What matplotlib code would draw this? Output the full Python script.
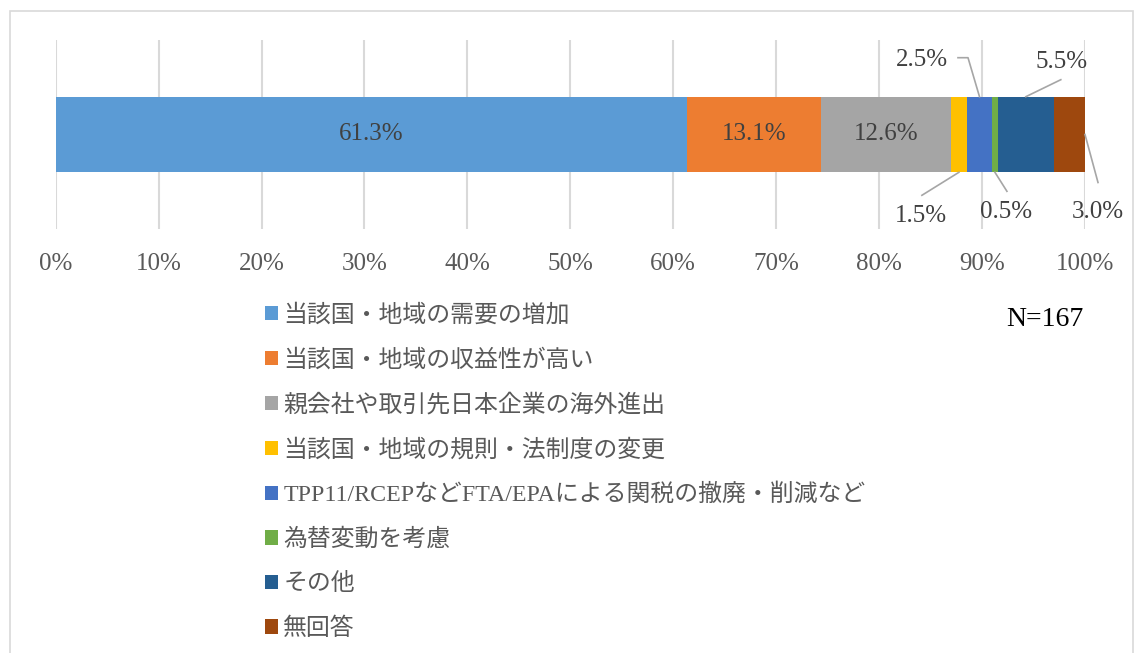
import numpy as np
import matplotlib.pyplot as plt
from matplotlib.patches import Rectangle
from matplotlib.transforms import IdentityTransform

plt.rcParams['font.family'] = ['Liberation Serif', 'Noto Sans CJK JP', 'DejaVu Sans']

# データ
categories = ['当該国・地域の需要の増加',
              '当該国・地域の収益性が高い',
              '親会社や取引先日本企業の海外進出',
              '当該国・地域の規則・法制度の変更',
              'TPP11/RCEPなどFTA/EPAによる関税の撤廃・削減など',
              '為替変動を考慮',
              'その他',
              '無回答']
values = [61.3, 13.1, 12.6, 1.5, 2.5, 0.5, 5.5, 3.0]
colors = ['#5B9BD5', '#ED7D31', '#A5A5A5', '#FFC000',
          '#4472C4', '#70AD47', '#255E91', '#9E480E']
tick_labels = ['0%', '10%', '20%', '30%', '40%', '50%',
               '60%', '70%', '80%', '90%', '100%']
n_label = 'N=167'

W, H = 1135, 653
fig = plt.figure(figsize=(W / 100, H / 100), dpi=100)

# 枠線
fig.patches.append(Rectangle((10 / W, -0.05), 1123 / W, 1 - 11 / H + 0.05,
                             transform=fig.transFigure, fill=False,
                             edgecolor='#D9D9D9', linewidth=1.2))

ax = fig.add_axes([55.7 / W, 1 - 229 / H, 1029.3 / W, 189 / H])
ax.set_xlim(0, 100)
ax.set_ylim(-0.5, 0.5)

lefts = np.concatenate([[0], np.cumsum(values)[:-1]])
for cat, v, l, c in zip(categories, values, lefts, colors):
    ax.barh(0, v, left=l, height=0.4, color=c, label=cat, zorder=3)

ax.set_xticks(np.arange(0, 101, 10))
ax.set_xticklabels(tick_labels, fontsize=18, color='#595959')
ax.tick_params(axis='x', length=0, pad=17.5)
ax.set_yticks([])
ax.grid(axis='x', color='#D9D9D9', linewidth=1.5, zorder=0)
for s in ax.spines.values():
    s.set_visible(False)

# 棒の中のラベル
for i in range(3):
    ax.text(lefts[i] + values[i] / 2, 0, f'{values[i]:.1f}%', ha='center', va='center',
            fontsize=18, color='#404040', zorder=4)

# 外側のラベル (anchor, text offset, leader points) offsets in pixels, y down
outer = {
    3: ('bottom', (-38, 44), [(0, 0), (-37, 23)]),
    4: ('top', (-58, -37), [(0, 0), (-11.5, -39), (-21.5, -39)]),
    5: ('bottom', (11, 40), [(0, 0), (12, 19)]),
    6: ('top', (36, -35), [(0, 0), (35, -17)]),
    7: ('end', (13, 77), [(0, 0), (13, 48)]),
}
for i, (where, toff, pts) in outer.items():
    if where == 'top':
        anchor = (lefts[i] + values[i] / 2, 0.2)
    elif where == 'bottom':
        anchor = (lefts[i] + values[i] / 2, -0.2)
    else:
        anchor = (lefts[i] + values[i], 0)
    px, py = ax.transData.transform(anchor)
    xs = [px + dx for dx, dy in pts]
    ys = [py - dy for dx, dy in pts]
    ax.plot(xs, ys, color='#A6A6A6', linewidth=1.2, transform=IdentityTransform(),
            clip_on=False, zorder=5)
    ax.annotate(f'{values[i]:.1f}%', xy=anchor, xytext=(toff[0], -toff[1]),
                textcoords='offset pixels', ha='center', va='center',
                fontsize=18, color='#404040', annotation_clip=False)

ax.legend(loc='upper left', bbox_to_anchor=(265 / W, 1 - 304 / H),
          bbox_transform=fig.transFigure, frameon=False, fontsize=17.2,
          labelcolor='#595959', handlelength=0.55, handleheight=0.55,
          handletextpad=0.22, labelspacing=0.93, borderpad=0,
          borderaxespad=0)

fig.text(1045 / W, 1 - 320 / H, n_label, ha='center', va='center',
         fontsize=20, color='black')

fig.savefig('out.png', dpi=100)
